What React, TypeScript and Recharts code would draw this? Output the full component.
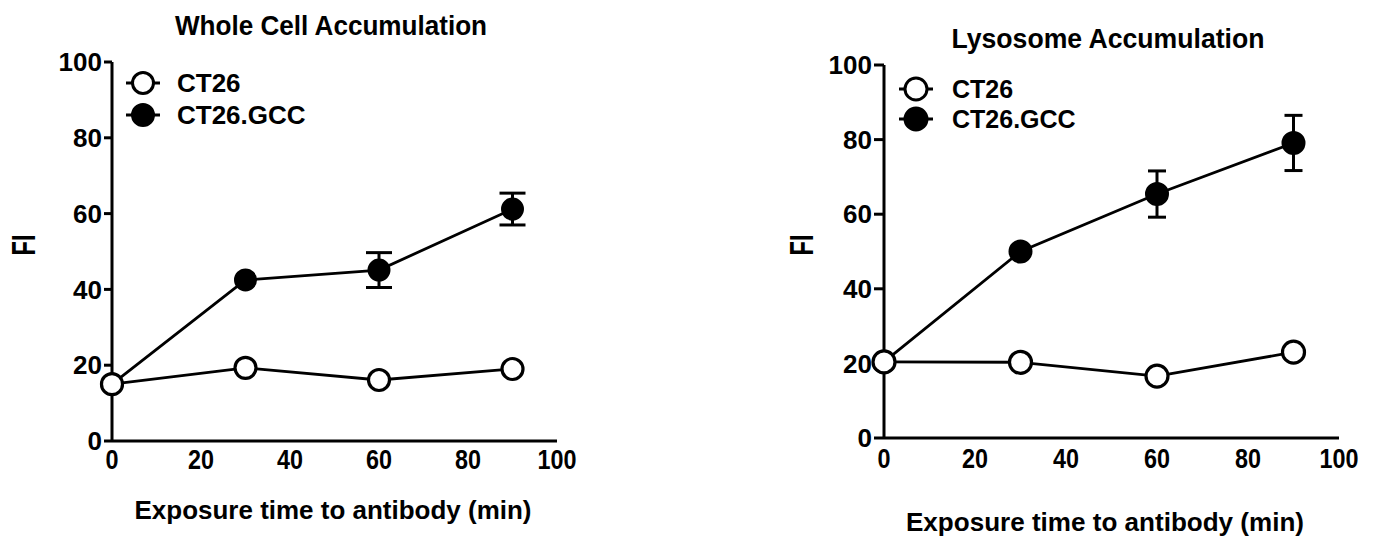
import { LineChart, Line, XAxis, YAxis, ErrorBar, Legend, Label } from 'recharts';

const times = [0, 30, 60, 90];
const xTicks = [0, 20, 40, 60, 80, 100];
const yTicks = [0, 20, 40, 60, 80, 100];

const wholeCT26 = [15, 19.3, 16.1, 19];
const wholeGCC = [15, 42.5, 45.1, 61.2];
const wholeGCCErr = [null, null, 4.6, 4.2];

const lysoCT26 = [20.4, 20.3, 16.6, 23];
const lysoGCC = [20.4, 50, 65.4, 79.1];
const lysoGCCErr = [null, null, 6.2, 7.4];

const legendOrder = ['CT26', 'CT26.GCC'];

const FONT = '"Liberation Sans", Arial, Helvetica, sans-serif';

function buildRows(ct26: number[], gcc: number[], err: (number | null)[]) {
  return times.map((t, i) => ({ t, ct26: ct26[i], gcc: gcc[i], err: err[i] }));
}

// x tick labels in the original are a touch taller than they are wide
function XTick(props: any) {
  const { x, y, payload } = props;
  const s = String(payload.value);
  return (
    <text
      x={x}
      y={y}
      dy="0.71em"
      textAnchor="middle"
      textLength={s.length * 13}
      lengthAdjust="spacingAndGlyphs"
      style={{ fill: '#000', fontSize: 27, fontWeight: 'bold', fontFamily: FONT }}
    >
      {s}
    </text>
  );
}

interface PanelProps {
  left: number;
  width: number;
  margin: { top: number; right: number; bottom: number; left: number };
  xAxisHeight: number;
  rows: ReturnType<typeof buildRows>;
  title: string;
  titleX: number;
  titleY: number;
  titleLen: number;
  xLabelX: number;
  xLabelY: number;
  xLabelLen: number;
  fiX: number;
  fiY: number;
  legendLeft: number;
  legendTop: number;
  legendRow: number;
  legendFont: number;
  legendGap: number;
  dotR: number;
  capW: number;
  yTickSize: number;
  xTickSize: number;
}

function Panel(p: PanelProps) {
  const tickStyle = { fill: '#000', fontSize: 26, fontWeight: 'bold', fontFamily: FONT };

  const renderLegend = (props: any) => {
    const items = [...(props.payload || [])].sort(
      (a: any, b: any) => legendOrder.indexOf(a.value) - legendOrder.indexOf(b.value)
    );
    return (
      <div style={{ fontFamily: FONT, fontWeight: 'bold', fontSize: p.legendFont, color: '#000' }}>
        {items.map((it: any) => (
          <div key={it.value} style={{ display: 'flex', alignItems: 'center', height: p.legendRow }}>
            <svg width={36} height={28}>
              <line x1={1} y1={14} x2={35} y2={14} stroke="#000" strokeWidth={2.8} />
              <circle cx={18} cy={14} r={p.dotR} fill={it.value === 'CT26' ? '#fff' : '#000'} stroke="#000" strokeWidth={3} />
            </svg>
            <span style={{ marginLeft: p.legendGap }}>{it.value}</span>
          </div>
        ))}
      </div>
    );
  };

  return (
    <div style={{ position: 'absolute', left: p.left, top: 0 }}>
      <LineChart width={p.width} height={542} data={p.rows} margin={p.margin}>
        <XAxis
          dataKey="t"
          type="number"
          domain={[0, 100]}
          ticks={xTicks}
          height={p.xAxisHeight}
          axisLine={{ stroke: '#000', strokeWidth: 3 }}
          tickLine={false}
          tickSize={p.xTickSize}
          tickMargin={2}
          tick={<XTick />}
          interval={0}
        >
          <Label
            content={() => (
              <text
                x={p.xLabelX}
                y={p.xLabelY}
                textAnchor="middle"
                textLength={p.xLabelLen}
                lengthAdjust="spacingAndGlyphs"
                style={{ fontFamily: FONT, fontWeight: 'bold', fontSize: 26, fill: '#000' }}
              >
                Exposure time to antibody (min)
              </text>
            )}
          />
        </XAxis>
        <YAxis
          type="number"
          domain={[0, 100]}
          ticks={yTicks}
          width={100}
          axisLine={{ stroke: '#000', strokeWidth: 3 }}
          tickLine={{ stroke: '#000', strokeWidth: 3 }}
          tickSize={p.yTickSize}
          tickMargin={2}
          tick={tickStyle}
          interval={0}
        >
          <Label
            content={() => (
              <text
                x={p.fiX}
                y={p.fiY}
                transform={`rotate(-90 ${p.fiX} ${p.fiY})`}
                textAnchor="middle"
                textLength={21}
                lengthAdjust="spacingAndGlyphs"
                style={{ fontFamily: FONT, fontWeight: 'bold', fontSize: 33, fill: '#000' }}
              >
                FI
              </text>
            )}
          />
        </YAxis>
        <text
          x={p.titleX}
          y={p.titleY}
          textAnchor="middle"
          textLength={p.titleLen}
          lengthAdjust="spacingAndGlyphs"
          style={{ fontFamily: FONT, fontWeight: 'bold', fontSize: 28, fill: '#000' }}
        >
          {p.title}
        </text>
        <Legend
          content={renderLegend}
          verticalAlign="middle"
          align="center"
          wrapperStyle={{ left: p.legendLeft, top: p.legendTop, width: 'auto' }}
        />
        <Line
          dataKey="gcc"
          name="CT26.GCC"
          stroke="#000"
          strokeWidth={2.8}
          dot={{ r: p.dotR, fill: '#000', stroke: '#000', strokeWidth: 2 }}
          activeDot={false}
          isAnimationActive={false}
        >
          <ErrorBar dataKey="err" direction="y" width={p.capW} stroke="#000" strokeWidth={3} />
        </Line>
        <Line
          dataKey="ct26"
          name="CT26"
          stroke="#000"
          strokeWidth={2.8}
          dot={{ r: p.dotR, fill: '#fff', stroke: '#000', strokeWidth: 3.2 }}
          activeDot={false}
          isAnimationActive={false}
        />
      </LineChart>
    </div>
  );
}

export default function App() {
  return (
    <div style={{ position: 'absolute', left: 0, top: 0, width: 1377, height: 542, background: '#fff' }}>
      <Panel
        left={0}
        width={620}
        margin={{ top: 62, right: 63, bottom: 0, left: 12 }}
        xAxisHeight={101}
        rows={buildRows(wholeCT26, wholeGCC, wholeGCCErr)}
        title="Whole Cell Accumulation"
        titleX={331}
        titleY={35}
        titleLen={312}
        xLabelX={333}
        xLabelY={519}
        xLabelLen={397}
        fiX={35}
        fiY={245}
        legendLeft={125}
        legendTop={67}
        legendRow={32}
        legendFont={26}
        legendGap={16}
        dotR={10.5}
        capW={13}
        yTickSize={8}
        xTickSize={7}
      />
      <Panel
        left={680}
        width={697}
        margin={{ top: 65, right: 38, bottom: 0, left: 104 }}
        xAxisHeight={104}
        rows={buildRows(lysoCT26, lysoGCC, lysoGCCErr)}
        title="Lysosome Accumulation"
        titleX={428}
        titleY={48}
        titleLen={313}
        xLabelX={425}
        xLabelY={531}
        xLabelLen={398}
        fiX={133}
        fiY={245}
        legendLeft={218}
        legendTop={74}
        legendRow={30}
        legendFont={25}
        legendGap={18}
        dotR={11}
        capW={9}
        yTickSize={10}
        xTickSize={9}
      />
    </div>
  );
}
